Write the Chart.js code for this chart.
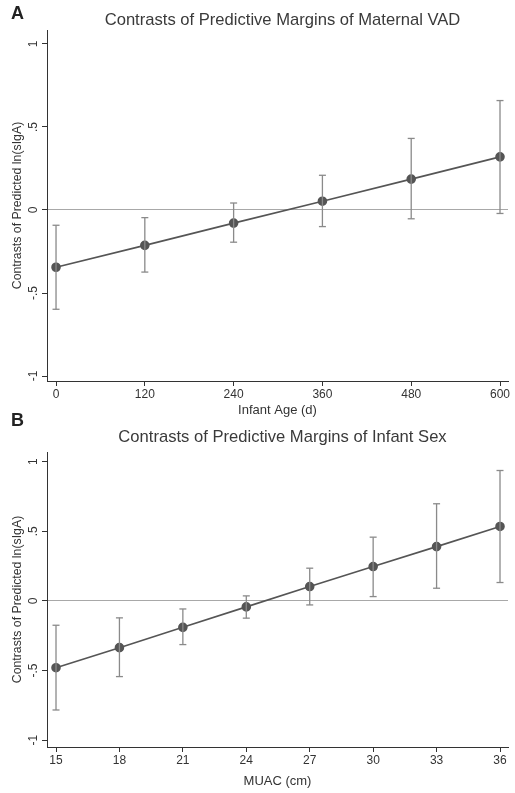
<!DOCTYPE html>
<html>
<head>
<meta charset="utf-8">
<title>Contrasts of Predictive Margins</title>
<script src="https://cdn.jsdelivr.net/npm/chart.js@4.4.1/dist/chart.umd.min.js"></script>
<style>
  body { margin: 0; background: #fff; font-family: "Liberation Sans", Arial, sans-serif; }
  #wrap { position: relative; width: 515px; height: 793px; }
  canvas { position: absolute; left: 0; }
  .panel { position: absolute; left: 11px; font-weight: bold; font-size: 18px; color: #222; }
</style>
</head>
<body>
<div id="wrap">
  <canvas id="chartA" width="515" height="425" style="top:0"></canvas>
  <canvas id="chartB" width="515" height="373" style="top:420px"></canvas>
  <div class="panel" style="top:3px">A</div>
  <div class="panel" style="top:410px">B</div>
</div>
<script>
// valeurs
const ageDays = [0, 120, 240, 360, 480, 600];
const vadContrast = [-0.345, -0.213, -0.079, 0.053, 0.186, 0.32];
const vadLower = [-0.598, -0.374, -0.194, -0.10, -0.053, -0.021];
const vadUpper = [-0.092, -0.046, 0.042, 0.209, 0.431, 0.659];

const muacCm = [15, 18, 21, 24, 27, 30, 33, 36];
const sexContrast = [-0.48, -0.336, -0.19, -0.043, 0.103, 0.247, 0.39, 0.535];
const sexLower = [-0.784, -0.544, -0.314, -0.124, -0.029, 0.031, 0.091, 0.132];
const sexUpper = [-0.175, -0.122, -0.058, 0.036, 0.235, 0.458, 0.698, 0.937];

const yTicks = [-1, -0.5, 0, 0.5, 1];
const yTickLabels = ['-1', '-.5', '0', '.5', '1'];

const fontName = "'Liberation Sans', Arial, sans-serif";
const txt = '#333';

// titre centré (à peu près) sur la zone du graphique
const centerTitle = {
  id: 'centerTitle',
  afterDraw(chart, args, opts) {
    const c = chart.ctx, a = chart.chartArea;
    c.save();
    c.font = opts.size + 'px ' + fontName;
    c.fillStyle = '#3a3a3a';
    c.textAlign = 'center';
    c.textBaseline = 'middle';
    c.fillText(opts.text, (a.left + a.right) / 2 + 5, opts.y);
    c.restore();
  }
};

function errorPoints(xs, lo, hi) {
  const pts = [];
  xs.forEach((x, i) => {
    pts.push({x: x, y: lo[i]}, {x: x, y: hi[i]}, {x: x, y: null});
  });
  return pts;
}

function makeChart(id, o) {
  return new Chart(document.getElementById(id), {
    type: 'scatter',
    data: {
      datasets: [{
        data: errorPoints(o.xs, o.lo, o.hi),
        showLine: true,
        spanGaps: false,
        borderColor: '#8a8a8a',
        borderWidth: 1.3,
        pointStyle: 'line',
        pointRadius: 3.5,
        pointBorderColor: '#8a8a8a',
        pointBorderWidth: 1.3
      }, {
        data: o.xs.map((x, i) => ({x: x, y: o.ys[i]})),
        showLine: true,
        borderColor: '#555',
        borderWidth: 1.6,
        pointRadius: 4,
        pointBackgroundColor: '#555',
        pointBorderColor: '#555'
      }]
    },
    options: {
      responsive: false,
      animation: false,
      events: [],
      layout: { padding: { top: o.top, right: 7, bottom: 0, left: 0 } },
      plugins: {
        legend: { display: false },
        tooltip: { enabled: false },
        centerTitle: { text: o.title, y: o.titleY, size: 16.6 }
      },
      scales: {
        x: {
          type: 'linear',
          min: o.xmin, max: o.xmax,
          afterBuildTicks: s => { s.ticks = o.xs.map(v => ({value: v})); },
          afterFit: s => { s.height = o.xh; },
          border: { display: true, color: txt, width: 1 },
          grid: { drawOnChartArea: false, tickLength: 5, tickColor: txt },
          ticks: { color: txt, font: { family: fontName, size: 12 }, padding: 1, maxRotation: 0 },
          title: { display: true, text: o.xTitle, color: txt, font: { family: fontName, size: 13 }, padding: { top: 0, bottom: o.xtp } }
        },
        y: {
          min: o.ymin, max: o.ymax,
          afterBuildTicks: s => { s.ticks = yTicks.map(v => ({value: v})); },
          afterFit: s => { s.width = 47; },
          border: { display: true, color: txt, width: 1 },
          grid: {
            color: c => (c.tick && c.tick.value === 0) ? '#a8a8a8' : 'rgba(0,0,0,0)',
            tickColor: txt, tickLength: 5, lineWidth: 1
          },
          ticks: {
            color: txt, font: { family: fontName, size: 12 },
            minRotation: 90, maxRotation: 90, crossAlign: 'center', padding: 1,
            callback: (v, i) => yTickLabels[yTicks.indexOf(v)]
          },
          title: { display: true, text: 'Contrasts of Predicted ln(sIgA)', color: txt, font: { family: fontName, size: 12.3 }, padding: { top: 10, bottom: 0 } }
        }
      }
    },
    plugins: [centerTitle]
  });
}

makeChart('chartA', {
  xs: ageDays, ys: vadContrast, lo: vadLower, hi: vadUpper,
  xmin: -12.2, xmax: 610.8, ymin: -1.03, ymax: 1.084,
  top: 30, xh: 44, xtp: 7,
  title: 'Contrasts of Predictive Margins of Maternal VAD', titleY: 20,
  xTitle: 'Infant Age (d)'
});

makeChart('chartB', {
  xs: muacCm, ys: sexContrast, lo: sexLower, hi: sexUpper,
  xmin: 14.574, xmax: 36.378, ymin: -1.05, ymax: 1.07,
  top: 32, xh: 46, xtp: 4,
  title: 'Contrasts of Predictive Margins of Infant Sex', titleY: 17,
  xTitle: 'MUAC (cm)'
});
</script>
</body>
</html>
